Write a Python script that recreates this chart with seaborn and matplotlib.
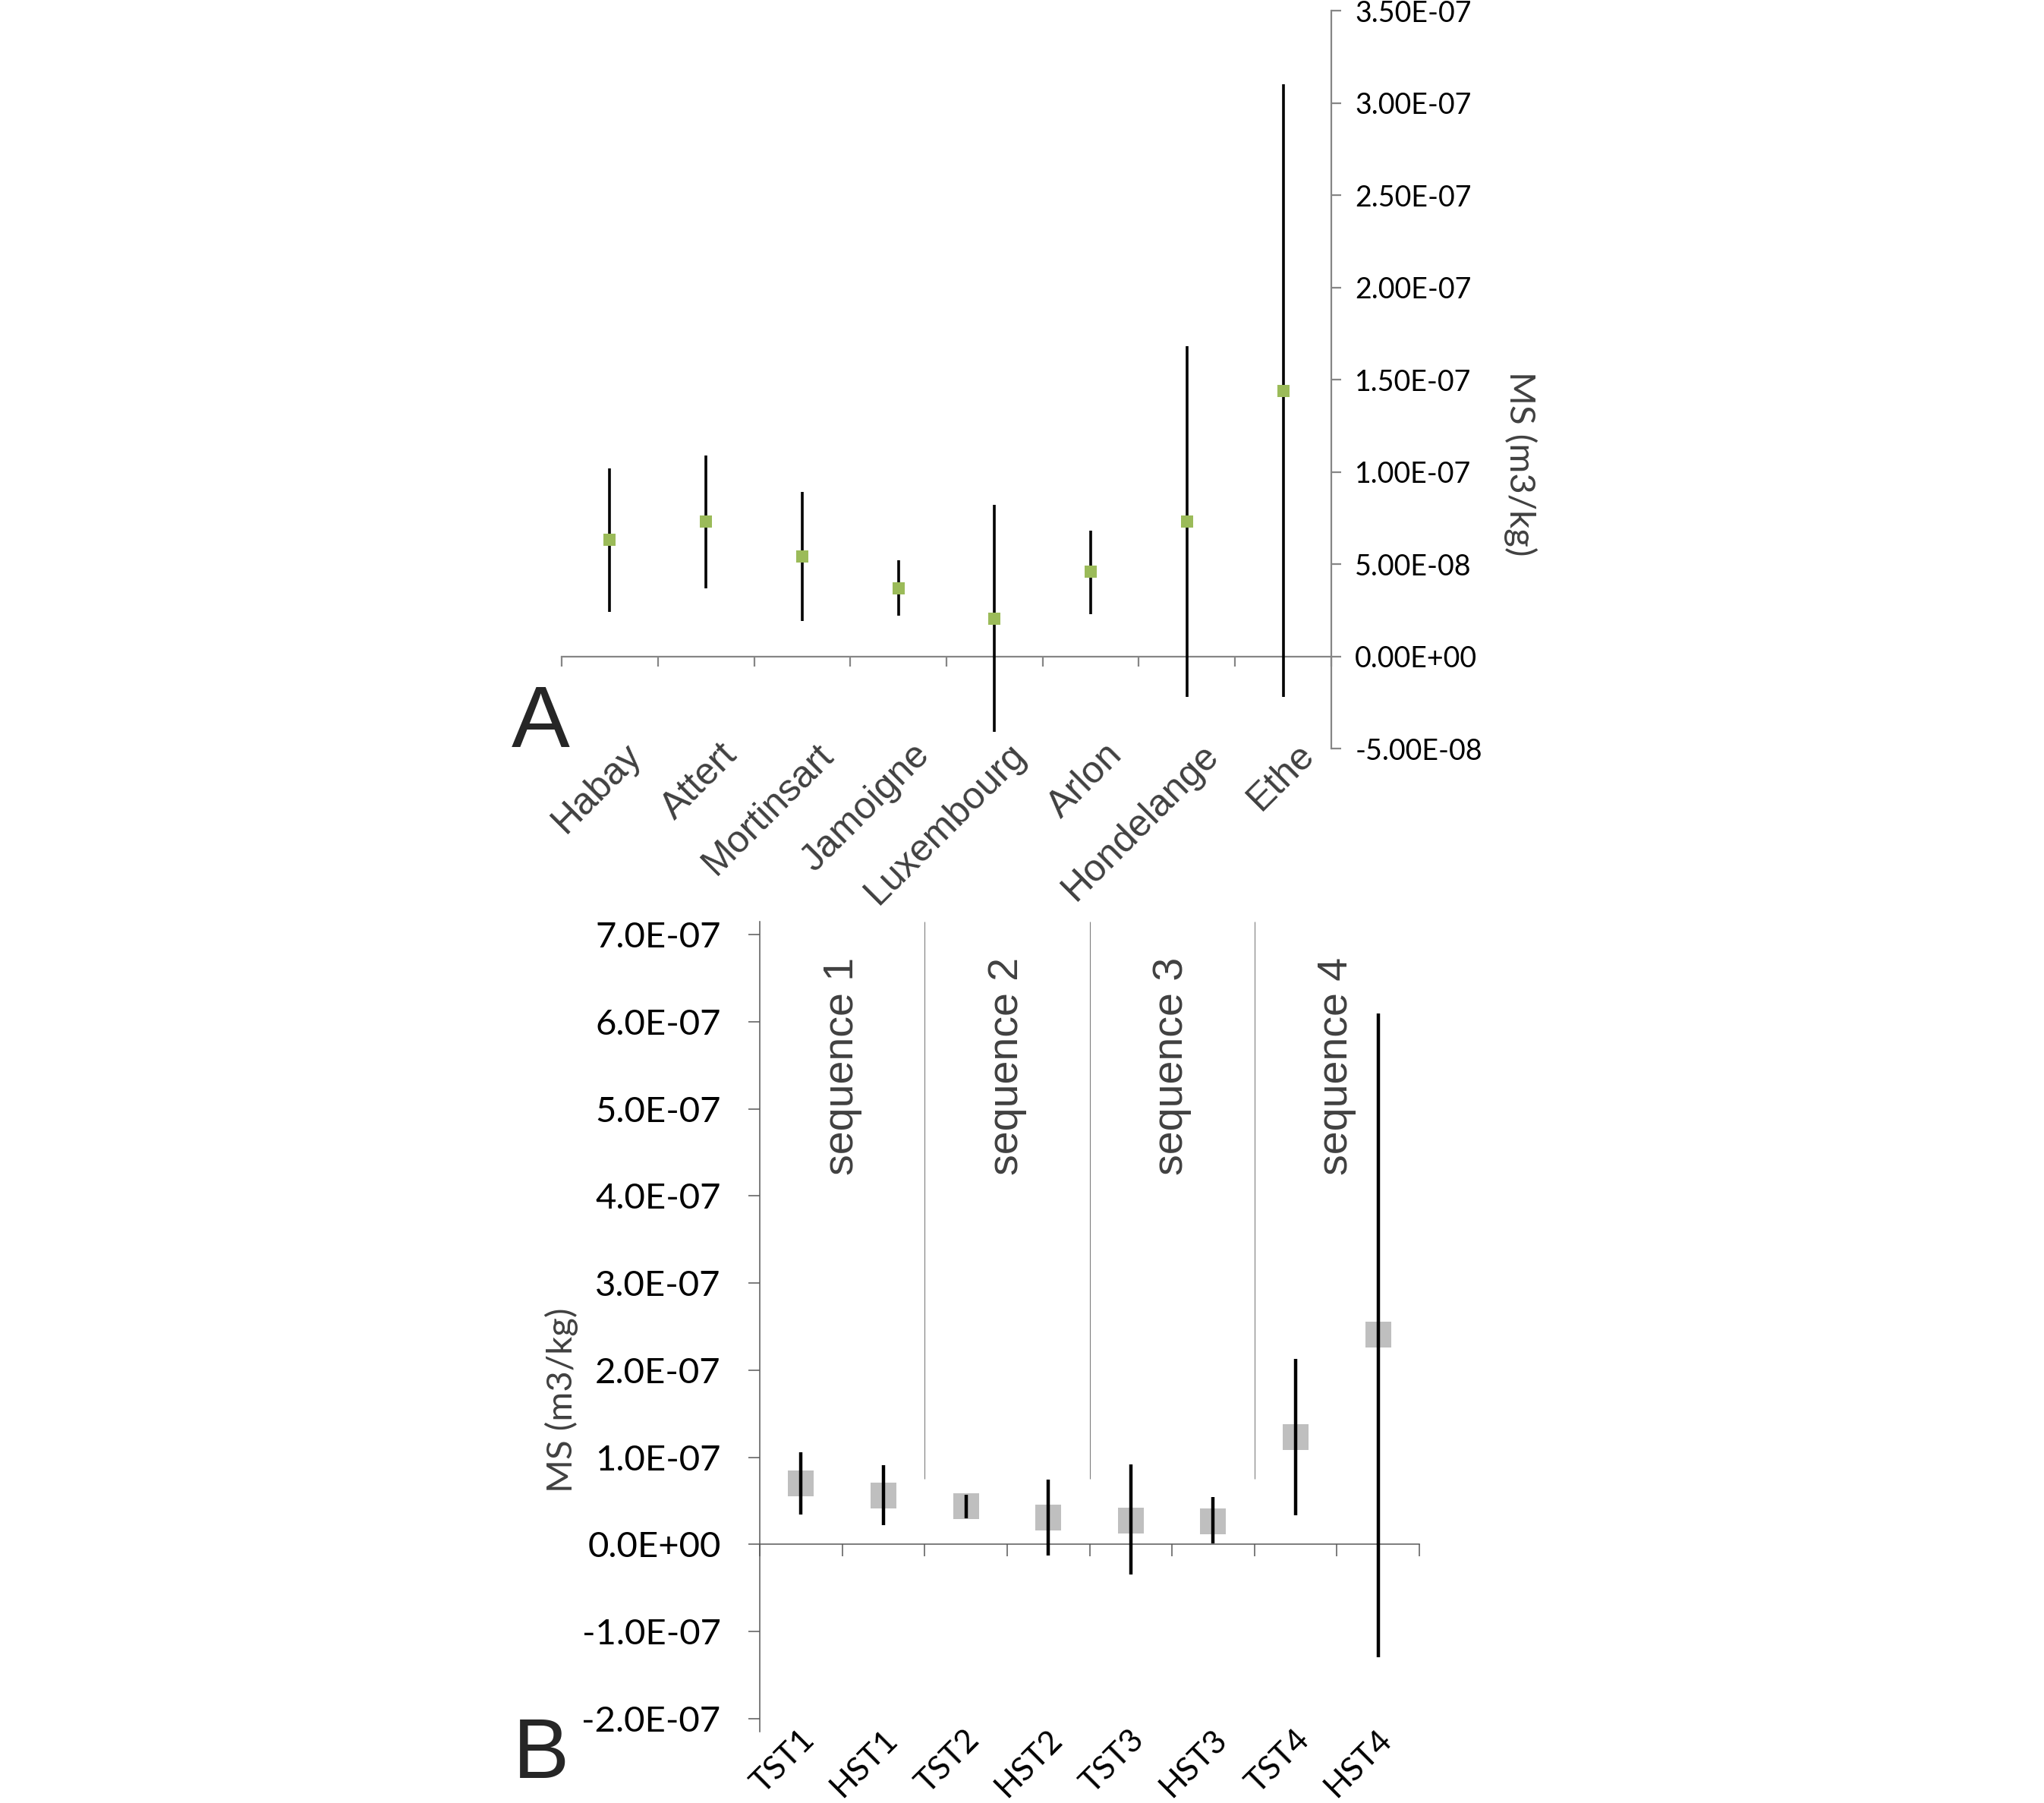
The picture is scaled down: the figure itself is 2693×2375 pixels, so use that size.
import matplotlib
matplotlib.use('Agg')
import matplotlib.pyplot as plt
from matplotlib.ticker import FuncFormatter, FixedLocator
from matplotlib.transforms import ScaledTranslation
import numpy as np
import pandas as pd
import seaborn as sns

# panel A: sites
sites = ['Habay', 'Attert', 'Mortinsart', 'Jamoigne', 'Luxembourg', 'Arlon', 'Hondelange', 'Ethe']
site_ms = [6.3e-8, 7.3e-8, 5.4e-8, 3.7e-8, 2.05e-8, 4.6e-8, 7.3e-8, 1.44e-7]
site_lo = [2.4e-8, 3.7e-8, 1.9e-8, 2.2e-8, -4.1e-8, 2.3e-8, -2.2e-8, -2.2e-8]
site_hi = [1.02e-7, 1.09e-7, 8.9e-8, 5.2e-8, 8.2e-8, 6.8e-8, 1.68e-7, 3.10e-7]

# panel B: systems tracts
tracts = ['TST1', 'HST1', 'TST2', 'HST2', 'TST3', 'HST3', 'TST4', 'HST4']
tract_ms = [7.0e-8, 5.6e-8, 4.4e-8, 3.1e-8, 2.75e-8, 2.6e-8, 1.23e-7, 2.41e-7]
tract_lo = [3.4e-8, 2.2e-8, 3.0e-8, -1.3e-8, -3.5e-8, 0.1e-8, 3.3e-8, -1.30e-7]
tract_hi = [1.06e-7, 9.1e-8, 5.7e-8, 7.4e-8, 9.2e-8, 5.4e-8, 2.13e-7, 6.09e-7]
sequences = ['sequence 1', 'sequence 2', 'sequence 3', 'sequence 4']
sep_floor = 7.5e-8

sns.set_theme(style='white')
plt.rcParams['font.family'] = ['Lato', 'DejaVu Sans']

GREEN = '#9BBB59'
GREY_MK = '#BFBFBF'
AX_A = '#868686'
AX_B = '#595959'
TXT = '#404040'

fig = plt.figure(figsize=(26.93, 23.75), dpi=100)


def shift_labels(labels, dx, dy):
    for lab in labels:
        lab.set_transform(lab.get_transform() + ScaledTranslation(dx, dy, fig.dpi_scale_trans))


# ---------------- panel A ----------------
axA = fig.add_axes([0.2748, 0.5848, 0.3765, 0.4093])
dfA = pd.DataFrame({'site': sites, 'ms': site_ms})
axA.vlines(np.arange(len(sites)), site_lo, site_hi, colors='black', lw=2.6, zorder=2)
sns.pointplot(data=dfA, x='site', y='ms', ax=axA, color=GREEN, marker='s',
              markersize=11, markeredgewidth=0, linestyle='none', errorbar=None, zorder=3)
axA.set_ylim(-5e-8, 3.5e-7)
axA.set_xlim(-0.5, len(sites) - 0.5)
axA.set_xlabel('')
axA.set_ylabel('')
for s in ['left', 'top', 'bottom']:
    axA.spines[s].set_visible(False)
axA.spines['right'].set_color(AX_A)
axA.spines['right'].set_linewidth(1.6)
axA.yaxis.tick_right()
axA.set_yticks(np.arange(-5e-8, 3.51e-7, 5e-8))
axA.yaxis.set_major_formatter(FuncFormatter(lambda v, p: f'{v:.2E}'))
axA.tick_params(axis='y', direction='out', length=9.5, width=1.6, color=AX_A,
                pad=13, labelsize=27, labelcolor='black')
axA.set_xticks(np.arange(len(sites)))
labsA = axA.set_xticklabels(sites, rotation=45, ha='right', va='top', rotation_mode='anchor',
                            fontsize=36, color=TXT, family=['Liberation Sans'])
axA.tick_params(axis='x', length=0, pad=0)
shift_labels(labsA, 0.18, 0.15)

zA = (0 - (-5e-8)) / (3.5e-7 + 5e-8)
secA = axA.secondary_xaxis(zA)
secA.spines['bottom'].set_color(AX_A)
secA.spines['bottom'].set_linewidth(1.6)
secA.xaxis.set_major_locator(FixedLocator(np.arange(len(sites) + 1) - 0.5))
secA.tick_params(axis='x', direction='out', length=9.5, width=1.6, color=AX_A, labelbottom=False)

axA.text(1.246, 0.386, 'MS (m3/kg)', transform=axA.transAxes, rotation=270,
         ha='center', va='center', fontsize=34, color=TXT)

# ---------------- panel B ----------------
axB = fig.add_axes([0.3717, 0.0396, 0.3227, 0.4493])
dfB = pd.DataFrame({'tract': tracts, 'ms': tract_ms})
sns.pointplot(data=dfB, x='tract', y='ms', ax=axB, color=GREY_MK, marker='s',
              markersize=24, markeredgewidth=0, linestyle='none', errorbar=None, zorder=2)
axB.vlines(np.arange(len(tracts)), tract_lo, tract_hi, colors='black', lw=3.2, zorder=3)
ylimB = (-2.15e-7, 7.15e-7)
axB.set_ylim(*ylimB)
axB.set_xlim(-0.5, len(tracts) - 0.5)
axB.set_xlabel('')
axB.set_ylabel('')
for s in ['right', 'top', 'bottom']:
    axB.spines[s].set_visible(False)
axB.spines['left'].set_color(AX_B)
axB.spines['left'].set_linewidth(1.1)
axB.set_yticks(np.arange(-2e-7, 7.01e-7, 1e-7))
axB.yaxis.set_major_formatter(FuncFormatter(lambda v, p: f'{v:.1E}'))
axB.tick_params(axis='y', direction='out', length=11, width=1.1, color=AX_B,
                pad=26, labelsize=34, labelcolor='black', left=True)
axB.set_xticks(np.arange(len(tracts)))
labsB = axB.set_xticklabels(tracts, rotation=45, ha='right', va='top', rotation_mode='anchor',
                            fontsize=31, color='black')
axB.tick_params(axis='x', length=0, pad=0)
shift_labels(labsB, -0.02, 0.09)

zB = (0 - ylimB[0]) / (ylimB[1] - ylimB[0])
secB = axB.secondary_xaxis(zB)
secB.spines['bottom'].set_color(AX_B)
secB.spines['bottom'].set_linewidth(1.1)
secB.xaxis.set_major_locator(FixedLocator(np.arange(len(tracts) + 1) - 0.5))
secB.tick_params(axis='x', direction='out', length=11.5, width=1.1, color=AX_B, labelbottom=False)

bounds = np.arange(2, len(tracts), 2) - 0.5
axB.vlines(bounds, sep_floor, ylimB[1], colors='#7F7F7F', lw=0.8, zorder=1)
for i, seq in enumerate(sequences):
    axB.text(2 * i + 0.5, 6.74e-7, seq, rotation=90, ha='center', va='top',
             fontsize=40, color=TXT, family=['Liberation Sans'])

axB.text(-0.300, 0.409, 'MS (m3/kg)', transform=axB.transAxes, rotation=90,
         ha='center', va='center', fontsize=34, color=TXT)

# panel letters
fig.text(0.2503, 0.5857, 'A', fontsize=83, color='#262626', family=['Liberation Sans'],
         ha='left', va='baseline')
fig.text(0.2510, 0.014, 'B', fontsize=80, color='#262626', family=['Liberation Sans'],
         ha='left', va='baseline')

fig.savefig('out.png', dpi=100, facecolor='white')
